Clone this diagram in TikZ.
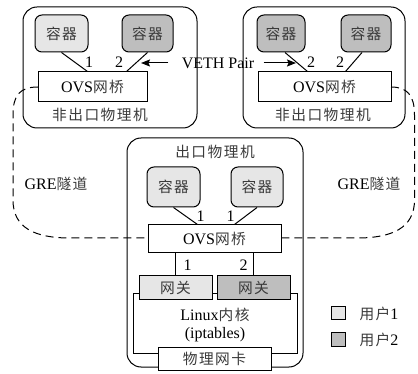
\documentclass[tikz,border=0pt]{standalone}
\usepackage{fontspec}
\setmainfont{Liberation Serif}
\newfontfamily\cjk[Scale=0.92,LetterSpace=10]{Noto Sans CJK SC}
\usetikzlibrary{arrows.meta,calc}
\definecolor{uone}{HTML}{E6E6E6}
\definecolor{utwo}{HTML}{BEBEBE}
\definecolor{zhgray}{HTML}{3A3A3A}
\newcommand\zh[1]{{\cjk\color{zhgray}#1}}
\begin{document}
\begin{tikzpicture}[x=1pt,y=-1pt, line width=1pt,
  font=\fontsize{16}{18}\selectfont,
  host/.style={draw, rounded corners=14pt, inner sep=0pt},
  ctr/.style={draw, rounded corners=7pt, inner sep=0pt},
  bx/.style={draw, fill=white, inner sep=0pt},
  lab/.style={inner sep=0pt},
  gre/.style={dash pattern=on 8pt off 5pt},
  arr/.style={-{Stealth[length=9pt,width=7pt,inset=1.5pt]}},
]
\useasboundingbox (0,0) rectangle (418,374);

% ---------- top-left host ----------
\node[host, minimum width=174, minimum height=121] (h1) at (110,67.5) {};
\node[lab] (h1t) at (100,115) {\zh{非出口物理机}};
\node[ctr, fill=uone, minimum width=53, minimum height=37] (c11) at (61.5,33.5) {\zh{容器}};
\node[ctr, fill=utwo, minimum width=51, minimum height=37] (c12) at (147.5,33.5) {\zh{容器}};
\node[bx, minimum width=109, minimum height=30] (o1) at (92.5,87) {OVS\zh{网桥}};
\draw (c11.south) -- ($(o1.north west)+(50,0)$);
\draw (c12.south) -- ($(o1.north west)+(89,0)$);
\node[lab] (p11) at (89,62) {1};
\node[lab] (p12) at (119,62) {2};

% ---------- top-right host ----------
\node[host, minimum width=162, minimum height=121] (h2) at (324,67.5) {};
\node[lab] (h2t) at (323,115) {\zh{非出口物理机}};
\node[ctr, fill=utwo, minimum width=48, minimum height=37] (c21) at (281,33.5) {\zh{容器}};
\node[ctr, fill=utwo, minimum width=50, minimum height=37] (c22) at (366,33.5) {\zh{容器}};
\node[bx, minimum width=133, minimum height=30] (o2) at (324.5,87) {OVS\zh{网桥}};
\draw ($(c21.south)+(4,0)$) -- ($(o2.north west)+(50,0)$);
\draw ($(c22.south)+(-4,0)$) -- ($(o2.north west)+(88,0)$);
\node[lab] (p21) at (311,62) {2};
\node[lab] (p22) at (340,62) {2};

% ---------- VETH pair ----------
\node[lab] (veth) at (218,63) {VETH Pair};
\coordinate (va) at (141,63);
\coordinate (vb) at (296,63);
\draw[arr] ($(veth.west)+(-13,0)$) -- (va);
\draw[arr] ($(veth.east)+(9,0)$) -- (vb);

% ---------- bottom host ----------
\node[host, minimum width=176, minimum height=229] (h3) at (215,252.5) {};
\node[lab] (h3t) at (215,152) {\zh{出口物理机}};
\node[ctr, fill=uone, minimum width=53, minimum height=40] (c31) at (173.5,187) {\zh{容器}};
\node[ctr, fill=uone, minimum width=52, minimum height=40] (c32) at (257,187) {\zh{容器}};

% GRE tunnels
\draw[gre] (92.5,87) ++(-54.5,0) coordinate (o1w)
  .. controls (20,87) and (13,95) .. (13,115) -- (13,200)
  .. controls (13,228) and (35,238) .. (70,238) -- (148,238) coordinate (o3w);
\draw[gre] (391,87) coordinate (o2e)
  .. controls (407,87) and (414.5,95) .. (414.5,115) -- (414.5,200)
  .. controls (414.5,228) and (392,238) .. (357,238) -- (281,238) coordinate (o3e);

\node[bx, minimum width=133, minimum height=28] (o3) at (214.5,239) {OVS\zh{网桥}};
\draw (c31.south) -- ($(o3.north west)+(50,0)$);
\draw (c32.south) -- ($(o3.north west)+(87,0)$);
\node[lab] (p31) at (200.5,216) {1};
\node[lab] (p32) at (230.5,216) {1};

\node[draw, inner sep=0pt, minimum width=164, minimum height=59] (lk) at (215,323.5) {};
\node[bx, fill=uone, minimum width=73, minimum height=24] (g1) at (175.5,288) {\zh{网关}};
\node[bx, fill=utwo, minimum width=73, minimum height=24] (g2) at (253.5,288) {\zh{网关}};
\draw (g1.north) -- (g1.north |- o3.south);
\draw (g2.north) -- (g2.north |- o3.south);
\node[lab] (q1) at (187.5,265) {1};
\node[lab] (q2) at (243.5,265) {2};
\node[lab] (lkt) at (215,315) {Linux\zh{内核}};
\node[lab] (ipt) at (215,335) {(iptables)};
\node[bx, minimum width=113, minimum height=23] (nic) at (214.5,358.5) {\zh{物理网卡}};

% GRE labels
\node[lab] (gl) at (56,184) {GRE\zh{隧道}};
\node[lab] (gr) at (369,184) {GRE\zh{隧道}};

% legend
\node[draw, fill=uone, inner sep=0pt, minimum width=14, minimum height=13] (l1) at (338,313.5) {};
\node[lab, anchor=west] (l1t) at (359,313.5) {\zh{用户}1};
\node[draw, fill=utwo, inner sep=0pt, minimum width=14, minimum height=13] (l2) at (338,339.5) {};
\node[lab, anchor=west] (l2t) at (359,339.5) {\zh{用户}2};
\end{tikzpicture}
\end{document}
